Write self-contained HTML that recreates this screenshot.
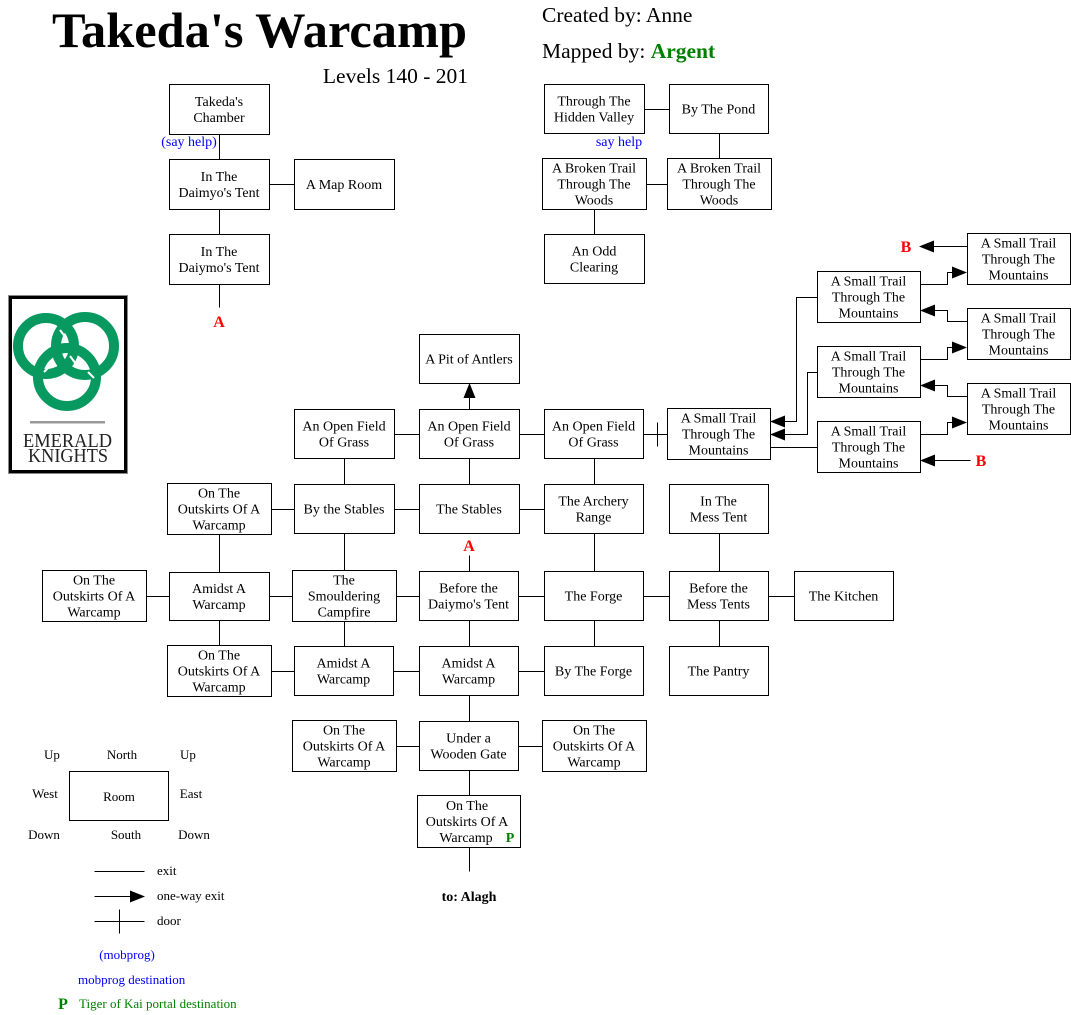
<!DOCTYPE html>
<html>
<head>
<meta charset="utf-8">
<style>
html,body{margin:0;padding:0;background:#fff;}
svg{display:block;}
text{font-family:"Liberation Serif","Times New Roman",serif;}
.b text{font-size:14px;fill:#000;text-anchor:middle;}
</style>
</head>
<body>
<svg width="1071" height="1015" viewBox="0 0 1071 1015" xmlns="http://www.w3.org/2000/svg">
<rect x="0" y="0" width="1071" height="1015" fill="#fff"/>

<!-- Header -->
<text x="52" y="47" font-size="50" font-weight="bold" textLength="415" lengthAdjust="spacingAndGlyphs">Takeda's Warcamp</text>
<text x="468" y="83" font-size="21.5" text-anchor="end">Levels 140 - 201</text>
<text x="542" y="22" font-size="21.5">Created by: Anne</text>
<text x="542" y="58" font-size="21.5">Mapped by: <tspan font-weight="bold" fill="#008000">Argent</tspan></text>

<!-- Logo -->
<rect x="8.5" y="295.5" width="119" height="178" fill="#fff" stroke="#888" stroke-width="1"/>
<rect x="10.5" y="297.5" width="115" height="174" fill="#fff" stroke="#000" stroke-width="3"/>
<g fill="none" stroke="#07995f" stroke-width="10">
  <circle cx="46" cy="346" r="28"/>
  <circle cx="85" cy="346" r="29"/>
  <circle cx="67" cy="377" r="29"/>
</g>
<g fill="none" stroke="#fff" stroke-width="2">
  <path d="M60 330 L66 338"/>
  <path d="M70 356 L76 364"/>
  <path d="M44 372 L50 366"/>
  <path d="M88 372 L94 378"/>
</g>
<rect x="30" y="421" width="75" height="2.5" fill="#999"/>
<text x="23" y="447" font-size="20" fill="#222" textLength="89" lengthAdjust="spacingAndGlyphs">EMERALD</text>
<text x="28" y="462" font-size="20" fill="#222" textLength="80" lengthAdjust="spacingAndGlyphs">KNIGHTS</text>

<g transform="translate(0.5,0.5)" stroke="#000" stroke-width="1" fill="none" shape-rendering="crispEdges">
  <!-- boxes -->
  <rect x="169" y="84" width="100" height="50"/>
  <rect x="169" y="159" width="100" height="50"/>
  <rect x="294" y="159" width="100" height="50"/>
  <rect x="169" y="234" width="100" height="50"/>
  <rect x="544" y="84" width="100" height="49"/>
  <rect x="669" y="84" width="99" height="49"/>
  <rect x="542" y="158" width="104" height="51"/>
  <rect x="667" y="158" width="104" height="51"/>
  <rect x="544" y="234" width="100" height="49"/>
  <rect x="419" y="334" width="100" height="49"/>
  <rect x="294" y="409" width="100" height="49"/>
  <rect x="419" y="409" width="100" height="49"/>
  <rect x="544" y="409" width="99" height="49"/>
  <rect x="667" y="408" width="103" height="51"/>
  <rect x="817" y="271" width="103" height="51"/>
  <rect x="817" y="346" width="103" height="51"/>
  <rect x="817" y="421" width="103" height="51"/>
  <rect x="967" y="233" width="103" height="51"/>
  <rect x="967" y="308" width="103" height="51"/>
  <rect x="967" y="383" width="103" height="51"/>
  <rect x="167" y="483" width="104" height="51"/>
  <rect x="294" y="484" width="100" height="49"/>
  <rect x="419" y="484" width="100" height="49"/>
  <rect x="544" y="484" width="99" height="49"/>
  <rect x="669" y="484" width="99" height="49"/>
  <rect x="42" y="570" width="104" height="51"/>
  <rect x="169" y="572" width="100" height="48"/>
  <rect x="292" y="570" width="104" height="51"/>
  <rect x="419" y="571" width="99" height="49"/>
  <rect x="544" y="571" width="99" height="49"/>
  <rect x="669" y="571" width="99" height="49"/>
  <rect x="794" y="571" width="99" height="49"/>
  <rect x="167" y="645" width="104" height="51"/>
  <rect x="294" y="646" width="99" height="49"/>
  <rect x="419" y="646" width="99" height="49"/>
  <rect x="544" y="646" width="99" height="49"/>
  <rect x="669" y="646" width="99" height="49"/>
  <rect x="292" y="720" width="104" height="51"/>
  <rect x="419" y="721" width="99" height="49"/>
  <rect x="542" y="720" width="104" height="51"/>
  <rect x="417" y="795" width="103" height="52"/>
  <rect x="69" y="771" width="99" height="49"/>

  <!-- connectors -->
  <path d="M219 134V159 M269 184H294 M219 209V234 M219 284V307
           M644 109H669 M719 133V158 M646 184H667 M594 209V234
           M469 409V397
           M394 434H419 M519 434H544 M643 434H667 M657 422V446
           M344 458V484 M469 458V484 M594 458V484
           M271 509H294 M394 509H419 M519 509H544
           M219 534V572 M344 533V570 M594 533V571 M719 533V571 M469 555V571
           M146 596H169 M269 596H292 M396 596H419 M518 596H544 M643 596H669 M768 596H794
           M219 620V645 M344 621V646 M469 620V646 M594 620V646 M719 620V646
           M271 671H294 M393 671H419 M518 671H544
           M469 695V721
           M396 746H419 M518 746H542
           M469 770V795 M469 847V871"/>
  <!-- right cluster -->
  <path d="M817 297H796V421H784
           M817 372H807V434H784
           M770 447H817
           M920 284H947V272H953
           M967 321H947V310H934
           M920 359H947V347H953
           M967 396H947V385H934
           M920 434H947V422H953
           M967 246H933
           M970 460H934"/>
  <!-- legend lines -->
  <path d="M94 871H144 M94 896H130 M94 921H144 M119 909V933"/>
</g>

<!-- arrowheads -->
<g fill="#000">
  <polygon points="469.5,383 463.5,398 475.5,398"/>
  <polygon points="770,421.5 785,415.5 785,427.5"/>
  <polygon points="770,434.5 785,428.5 785,440.5"/>
  <polygon points="967,272.5 952,266.5 952,278.5"/>
  <polygon points="920,310.5 935,304.5 935,316.5"/>
  <polygon points="967,347.5 952,341.5 952,353.5"/>
  <polygon points="920,385.5 935,379.5 935,391.5"/>
  <polygon points="967,422.5 952,416.5 952,428.5"/>
  <polygon points="919,246.5 934,240.5 934,252.5"/>
  <polygon points="920,460.5 935,454.5 935,466.5"/>
  <polygon points="145,896.5 130,890.5 130,902.5"/>
</g>

<!-- box labels -->
<g class="b">
  <text x="219" y="106">Takeda's</text><text x="219" y="122">Chamber</text>
  <text x="219" y="181">In The</text><text x="219" y="197">Daimyo's Tent</text>
  <text x="344" y="189">A Map Room</text>
  <text x="219" y="256">In The</text><text x="219" y="272">Daiymo's Tent</text>

  <text x="594" y="105.5">Through The</text><text x="594" y="121.5">Hidden Valley</text>
  <text x="718.5" y="113.5">By The Pond</text>
  <text x="594" y="172.5">A Broken Trail</text><text x="594" y="188.5">Through The</text><text x="594" y="204.5">Woods</text>
  <text x="719" y="172.5">A Broken Trail</text><text x="719" y="188.5">Through The</text><text x="719" y="204.5">Woods</text>
  <text x="594" y="255.5">An Odd</text><text x="594" y="271.5">Clearing</text>

  <text x="469" y="363.5">A Pit of Antlers</text>
  <text x="344" y="430.5">An Open Field</text><text x="344" y="446.5">Of Grass</text>
  <text x="469" y="430.5">An Open Field</text><text x="469" y="446.5">Of Grass</text>
  <text x="593.5" y="430.5">An Open Field</text><text x="593.5" y="446.5">Of Grass</text>

  <text x="718.5" y="422.5">A Small Trail</text><text x="718.5" y="438.5">Through The</text><text x="718.5" y="454.5">Mountains</text>
  <text x="868.5" y="285.5">A Small Trail</text><text x="868.5" y="301.5">Through The</text><text x="868.5" y="317.5">Mountains</text>
  <text x="868.5" y="360.5">A Small Trail</text><text x="868.5" y="376.5">Through The</text><text x="868.5" y="392.5">Mountains</text>
  <text x="868.5" y="435.5">A Small Trail</text><text x="868.5" y="451.5">Through The</text><text x="868.5" y="467.5">Mountains</text>
  <text x="1018.5" y="247.5">A Small Trail</text><text x="1018.5" y="263.5">Through The</text><text x="1018.5" y="279.5">Mountains</text>
  <text x="1018.5" y="322.5">A Small Trail</text><text x="1018.5" y="338.5">Through The</text><text x="1018.5" y="354.5">Mountains</text>
  <text x="1018.5" y="397.5">A Small Trail</text><text x="1018.5" y="413.5">Through The</text><text x="1018.5" y="429.5">Mountains</text>

  <text x="219" y="497.5">On The</text><text x="219" y="513.5">Outskirts Of A</text><text x="219" y="529.5">Warcamp</text>
  <text x="344" y="513.5">By the Stables</text>
  <text x="469" y="513.5">The Stables</text>
  <text x="593.5" y="505.5">The Archery</text><text x="593.5" y="521.5">Range</text>
  <text x="718.5" y="505.5">In The</text><text x="718.5" y="521.5">Mess Tent</text>

  <text x="94" y="584.5">On The</text><text x="94" y="600.5">Outskirts Of A</text><text x="94" y="616.5">Warcamp</text>
  <text x="219" y="593">Amidst A</text><text x="219" y="609">Warcamp</text>
  <text x="344" y="584.5">The</text><text x="344" y="600.5">Smouldering</text><text x="344" y="616.5">Campfire</text>
  <text x="468.5" y="592.5">Before the</text><text x="468.5" y="608.5">Daiymo's Tent</text>
  <text x="593.5" y="600.5">The Forge</text>
  <text x="718.5" y="592.5">Before the</text><text x="718.5" y="608.5">Mess Tents</text>
  <text x="843.5" y="600.5">The Kitchen</text>

  <text x="219" y="659.5">On The</text><text x="219" y="675.5">Outskirts Of A</text><text x="219" y="691.5">Warcamp</text>
  <text x="343.5" y="667.5">Amidst A</text><text x="343.5" y="683.5">Warcamp</text>
  <text x="468.5" y="667.5">Amidst A</text><text x="468.5" y="683.5">Warcamp</text>
  <text x="593.5" y="675.5">By The Forge</text>
  <text x="718.5" y="675.5">The Pantry</text>

  <text x="344" y="734.5">On The</text><text x="344" y="750.5">Outskirts Of A</text><text x="344" y="766.5">Warcamp</text>
  <text x="468.5" y="742.5">Under a</text><text x="468.5" y="758.5">Wooden Gate</text>
  <text x="594" y="734.5">On The</text><text x="594" y="750.5">Outskirts Of A</text><text x="594" y="766.5">Warcamp</text>

  <text x="467" y="810">On The</text><text x="467" y="826">Outskirts Of A</text><text x="466" y="842">Warcamp</text>
</g>
<text x="510" y="842" font-size="14" font-weight="bold" fill="#008000" text-anchor="middle">P</text>

<!-- annotations -->
<text x="189" y="146" font-size="14" fill="#0000ff" text-anchor="middle">(say help)</text>
<text x="619" y="146" font-size="14" fill="#0000ff" text-anchor="middle">say help</text>
<text x="219" y="327" font-size="16" font-weight="bold" fill="#ff0000" text-anchor="middle">A</text>
<text x="469" y="551" font-size="16" font-weight="bold" fill="#ff0000" text-anchor="middle">A</text>
<text x="906" y="252" font-size="16" font-weight="bold" fill="#ff0000" text-anchor="middle">B</text>
<text x="981" y="466" font-size="16" font-weight="bold" fill="#ff0000" text-anchor="middle">B</text>
<text x="469" y="901" font-size="14" font-weight="bold" text-anchor="middle">to: Alagh</text>

<!-- legend -->
<g font-size="13" text-anchor="middle">
  <text x="52" y="759">Up</text>
  <text x="122" y="759">North</text>
  <text x="188" y="759">Up</text>
  <text x="45" y="798">West</text>
  <text x="119" y="801">Room</text>
  <text x="191" y="798">East</text>
  <text x="44" y="839">Down</text>
  <text x="126" y="839">South</text>
  <text x="194" y="839">Down</text>
</g>
<g font-size="13">
  <text x="157" y="875">exit</text>
  <text x="157" y="900">one-way exit</text>
  <text x="157" y="925">door</text>
  <text x="127" y="959" fill="#0000ff" text-anchor="middle">(mobprog)</text>
  <text x="78" y="984" fill="#0000ff">mobprog destination</text>
  <text x="79" y="1008" fill="#008000">Tiger of Kai portal destination</text>
</g>
<text x="63" y="1009" font-size="16" font-weight="bold" fill="#008000" text-anchor="middle">P</text>
</svg>
</body>
</html>
